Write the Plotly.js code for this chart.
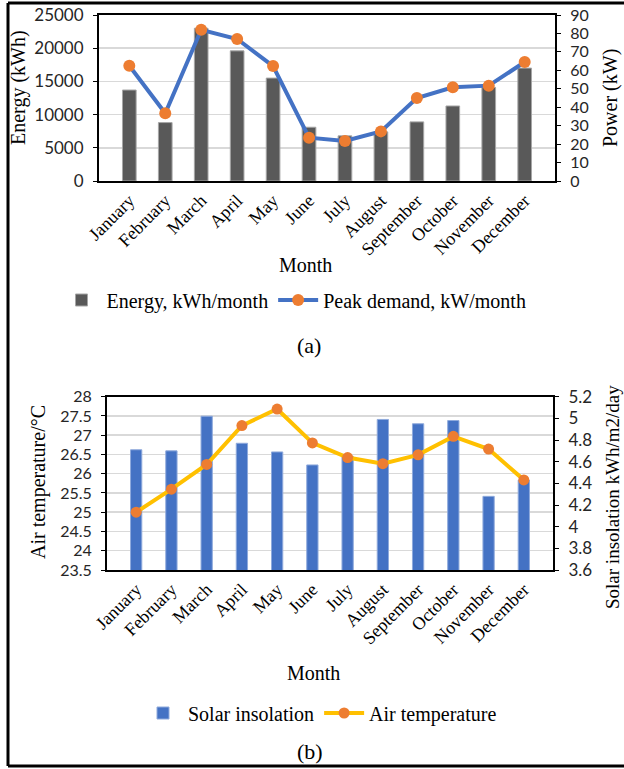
<!DOCTYPE html>
<html>
<head>
<meta charset="utf-8">
<script src="https://cdn.plot.ly/plotly-3.0.1.min.js"></script>
<style>
  html, body { margin: 0; padding: 0; background: #fff; }
  #chart { width: 624px; height: 769px; }
</style>
</head>
<body>
<div id="chart"></div>
<script>
// Monthly categories shared by both panels
const months = ["January", "February", "March", "April", "May", "June",
                "July", "August", "September", "October", "November", "December"];

// Panel (a): energy use and peak demand
const energyKWh = [13700, 8800, 23000, 19600, 15500, 8100, 6800, 7400, 8900, 11300, 14100, 17000];
const peakKW    = [62.5, 36.7, 82, 77, 62.3, 23.5, 21.7, 26.9, 45, 50.8, 51.7, 64.5];

// Panel (b): solar insolation and air temperature
const insolation = [4.71, 4.70, 5.02, 4.77, 4.69, 4.57, 4.65, 4.99, 4.95, 4.98, 4.28, 4.43];
const airTemp    = [25.0, 25.6, 26.24, 27.25, 27.68, 26.80, 26.42, 26.26, 26.49, 26.97, 26.64, 25.84];

const W = 624, H = 769;
const px = v => v / W;          // horizontal pixel -> paper
const py = v => 1 - v / H;      // vertical pixel (from top) -> paper

const SERIF = "Liberation Serif, Times New Roman, serif";
const SANS = "Lato, Carlito, Calibri, sans-serif";
const tickNum = { family: SANS, size: 17, color: "#262626" };
const tickNumTight = { family: SANS, size: 16, color: "#262626" };
const tickCat = { family: SERIF, size: 18, color: "#000" };

const traces = [
  {
    type: "bar", x: months, y: energyKWh, xaxis: "x", yaxis: "y",
    name: "Energy, kWh/month", legend: "legend",
    width: 0.38,
    marker: { color: "#595959", line: { color: "#a6a6a6", width: 1 } },
    hoverinfo: "skip"
  },
  {
    type: "scatter", mode: "lines+markers", x: months, y: peakKW, xaxis: "x", yaxis: "y2",
    name: "Peak demand, kW/month", legend: "legend",
    line: { color: "#4472C4", width: 4 },
    marker: { color: "#ED7D31", size: 12 },
    hoverinfo: "skip"
  },
  {
    type: "bar", x: months, y: insolation, xaxis: "x2", yaxis: "y3",
    name: "Solar insolation", legend: "legend2",
    width: 0.32,
    marker: { color: "#4472C4", line: { color: "#8faadc", width: 1 } },
    hoverinfo: "skip"
  },
  {
    type: "scatter", mode: "lines+markers", x: months, y: airTemp, xaxis: "x2", yaxis: "y4",
    name: "Air temperature", legend: "legend2",
    line: { color: "#FFC000", width: 4 },
    marker: { color: "#ED7D31", size: 11 },
    hoverinfo: "skip"
  }
];

const frameAxis = { showline: true, linecolor: "#000", linewidth: 2, zeroline: false, fixedrange: true, automargin: false };
const valueAxis = Object.assign({}, frameAxis, {
  ticks: "outside", ticklen: 4, tickcolor: "#000", tickfont: tickNum, ticklabelstandoff: 6
});

const layout = {
  width: W, height: H,
  margin: { l: 0, r: 0, t: 0, b: 0 },
  paper_bgcolor: "#fff", plot_bgcolor: "#fff",
  showlegend: true,
  xaxis: Object.assign({}, frameAxis, {
    domain: [px(99), px(555)], anchor: "y", type: "category",
    mirror: true, tickangle: -45, ticks: "", tickfont: tickCat
  }),
  yaxis: Object.assign({}, valueAxis, {
    domain: [py(181), py(15)], anchor: "x", range: [0, 25000], dtick: 5000,
    tickformat: "d", showgrid: true, gridcolor: "#d9d9d9", gridwidth: 1.5
  }),
  yaxis2: Object.assign({}, valueAxis, {
    overlaying: "y", side: "right", anchor: "x", range: [0, 90], dtick: 10, showgrid: false,
    tickfont: tickNumTight
  }),
  xaxis2: Object.assign({}, frameAxis, {
    domain: [px(107), px(553)], anchor: "y3", type: "category",
    mirror: true, tickangle: -45, ticks: "", tickfont: tickCat
  }),
  yaxis3: Object.assign({}, valueAxis, {
    domain: [py(570), py(396.7)], anchor: "x2", side: "right", range: [3.6, 5.2], dtick: 0.2,
    showgrid: false
  }),
  yaxis4: Object.assign({}, valueAxis, {
    overlaying: "y3", side: "left", anchor: "x2", range: [23.5, 28], dtick: 0.5,
    showgrid: true, gridcolor: "#d9d9d9", gridwidth: 1.5, tickfont: tickNumTight
  }),
  legend: {
    orientation: "h", x: px(294), xanchor: "center", y: py(300), yanchor: "middle",
    font: { family: SERIF, size: 20, color: "#000" }, bgcolor: "rgba(0,0,0,0)", itemwidth: 40
  },
  legend2: {
    orientation: "h", x: px(320), xanchor: "center", y: py(713), yanchor: "middle",
    font: { family: SERIF, size: 20, color: "#000" }, bgcolor: "rgba(0,0,0,0)", itemwidth: 40
  },
  annotations: [
    { text: "Energy (kWh)", x: px(18), y: py(88), textangle: -90 },
    { text: "Power (kW)", x: px(610), y: py(98), textangle: -90 },
    { text: "Month", x: px(305), y: py(265) },
    { text: "(a)", x: px(309), y: py(345), font: { family: SERIF, size: 22, color: "#000" } },
    { text: "Air temperature/°C", x: px(38), y: py(482), textangle: -90 },
    { text: "Solar insolation kWh/m2/day", x: px(612), y: py(497), textangle: -90, font: { family: SERIF, size: 19, color: "#000" } },
    { text: "Month", x: px(313), y: py(673) },
    { text: "(b)", x: px(310), y: py(751), font: { family: SERIF, size: 22, color: "#000" } }
  ].map(a => Object.assign({
    xref: "paper", yref: "paper", showarrow: false, xanchor: "center", yanchor: "middle",
    font: { family: SERIF, size: 20, color: "#000" }
  }, a)),
  shapes: [
    { type: "line", xref: "paper", yref: "paper", x0: px(8), x1: px(8), y0: py(3), y1: py(766), line: { color: "#000", width: 3 } },
    { type: "line", xref: "paper", yref: "paper", x0: px(8), x1: 1, y0: py(3), y1: py(3), line: { color: "#000", width: 3 } },
    { type: "line", xref: "paper", yref: "paper", x0: px(8), x1: 1, y0: py(766), y1: py(766), line: { color: "#000", width: 3 } }
  ]
};

Plotly.newPlot("chart", traces, layout, { displayModeBar: false, staticPlot: true });
</script>
</body>
</html>
